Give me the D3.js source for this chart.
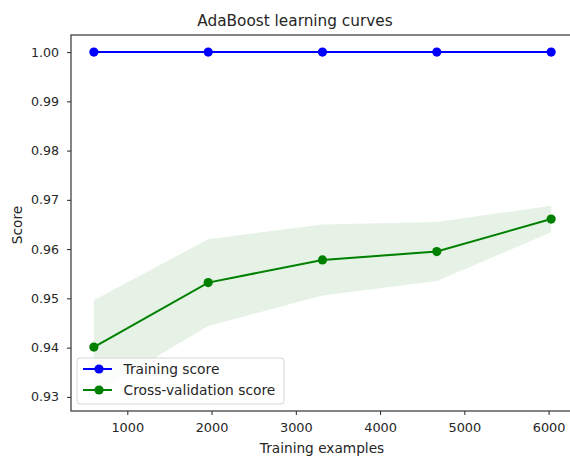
<!DOCTYPE html>
<html>
<head>
<meta charset="utf-8">
<script src="https://cdn.jsdelivr.net/npm/d3@7"></script>
<style>
  html, body { margin: 0; padding: 0; background: #fff; }
  svg { display: block; font-family: "DejaVu Sans", sans-serif; }
</style>
</head>
<body>
<svg id="chart" width="570" height="458"></svg>
<script>
// Learning-curve data: training set sizes and scores
const trainSizes = [603, 1960, 3316, 4673, 6030];
const trainMean = [1.0, 1.0, 1.0, 1.0, 1.0];
const cvMean = [0.9401, 0.9532, 0.9578, 0.9595, 0.9661];
const cvUpper = [0.9496, 0.9620, 0.9650, 0.9655, 0.9688];
const cvLower = [0.9306, 0.9444, 0.9506, 0.9535, 0.9634];
const xTicks = [1000, 2000, 3000, 4000, 5000, 6000];
const yTicks = [0.93, 0.94, 0.95, 0.96, 0.97, 0.98, 0.99, 1.00];
const seriesNames = ["Training score", "Cross-validation score"];

const svg = d3.select("#chart");
const padL = 71, padR = 574, padT = 35, padB = 411;
const textColor = "#262626";
const trainColor = "#0000ff";
const cvColor = "#008000";

// 5% padding around the data extent, like matplotlib's default margins
const xMin = d3.min(trainSizes), xMax = d3.max(trainSizes);
const xPad = (xMax - xMin) * 0.05;
const yMin = d3.min(cvLower), yMax = d3.max(trainMean);
const yPad = (yMax - yMin) * 0.05;

const x = d3.scaleLinear().domain([xMin - xPad, xMax + xPad]).range([padL, padR]);
const y = d3.scaleLinear().domain([yMin - yPad, yMax + yPad]).range([padB, padT]);

const cvData = trainSizes.map((s, i) => ({ s, m: cvMean[i], lo: cvLower[i], hi: cvUpper[i] }));
const trData = trainSizes.map((s, i) => ({ s, m: trainMean[i] }));

const plot = svg.append("g");

// shaded std band for cross-validation
plot.append("path")
  .datum(cvData)
  .attr("d", d3.area().x(d => x(d.s)).y0(d => y(d.lo)).y1(d => y(d.hi)))
  .attr("fill", cvColor).attr("fill-opacity", 0.1).attr("stroke", "none");

const line = d3.line().x(d => x(d.s)).y(d => y(d.m));

function drawSeries(data, color) {
  plot.append("path").datum(data).attr("d", line)
    .attr("fill", "none").attr("stroke", color).attr("stroke-width", 2);
  plot.selectAll(null).data(data).enter().append("circle")
    .attr("cx", d => x(d.s)).attr("cy", d => y(d.m)).attr("r", 4.6)
    .attr("fill", color);
}
drawSeries(trData, trainColor);
drawSeries(cvData, cvColor);

// axes
const xAxis = d3.axisBottom(x).tickValues(xTicks).tickFormat(d3.format("d")).tickSize(4).tickPadding(8);
const yAxis = d3.axisLeft(y).tickValues(yTicks).tickFormat(d3.format(".2f")).tickSize(4).tickPadding(8);

const gx = svg.append("g").attr("transform", `translate(0,${padB})`).call(xAxis);
const gy = svg.append("g").attr("transform", `translate(${padL},0)`).call(yAxis);
[gx, gy].forEach(g => {
  g.select(".domain").remove();
  g.selectAll(".tick line").attr("stroke", textColor).attr("stroke-width", 1);
  g.selectAll(".tick text").attr("fill", textColor)
    .attr("font-family", "DejaVu Sans, sans-serif");
});
gx.selectAll(".tick text").attr("font-size", 12.9);
gy.selectAll(".tick text").attr("font-size", 12.6);

// frame
svg.append("rect")
  .attr("x", padL).attr("y", padT).attr("width", padR - padL).attr("height", padB - padT)
  .attr("fill", "none").attr("stroke", "#333").attr("stroke-width", 1.2);

// titles
svg.append("text").attr("x", 295).attr("y", 26).attr("text-anchor", "middle")
  .attr("font-size", 15.3).attr("fill", textColor).text("AdaBoost learning curves");
svg.append("text").attr("x", 322).attr("y", 452.5).attr("text-anchor", "middle")
  .attr("font-size", 13.7).attr("fill", textColor).text("Training examples");
svg.append("text").attr("transform", `translate(21.5,${(padT + padB) / 2 + 2}) rotate(-90)`)
  .attr("text-anchor", "middle").attr("font-size", 13.7).attr("fill", textColor).text("Score");

// legend
const lg = svg.append("g").attr("transform", "translate(77,358)");
lg.append("rect").attr("width", 207).attr("height", 46).attr("rx", 3)
  .attr("fill", "#fff").attr("fill-opacity", 0.8).attr("stroke", "#d6d6d6");
[trainColor, cvColor].forEach((c, i) => {
  const cy = 11 + i * 21;
  lg.append("line").attr("x1", 6).attr("x2", 35).attr("y1", cy).attr("y2", cy)
    .attr("stroke", c).attr("stroke-width", 2);
  lg.append("circle").attr("cx", 22).attr("cy", cy).attr("r", 4.6).attr("fill", c);
  lg.append("text").attr("x", 46.5).attr("y", cy).attr("dy", "0.36em")
    .attr("font-size", 13.8).attr("fill", textColor).text(seriesNames[i]);
});
</script>
</body>
</html>
